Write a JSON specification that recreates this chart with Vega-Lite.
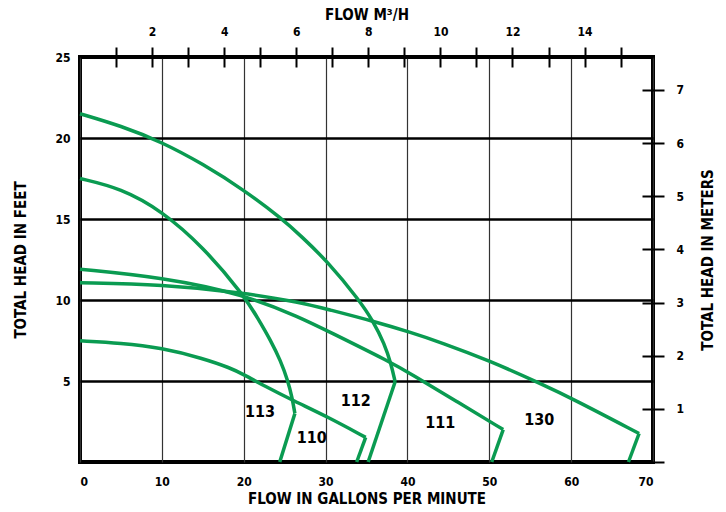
{
  "$schema": "https://vega.github.io/schema/vega-lite/v6.json",
  "width": 573,
  "height": 405,
  "autosize": {"type": "none"},
  "padding": {"left": 80, "top": 57, "right": 73, "bottom": 50},
  "background": "white",
  "config": {
    "view": {"stroke": "black", "strokeWidth": 4},
    "font": "DejaVu Sans Condensed, Liberation Sans, sans-serif",
    "axis": {
      "labelFont": "DejaVu Sans Condensed, Liberation Sans, sans-serif",
      "titleFont": "DejaVu Sans Condensed, Liberation Sans, sans-serif",
      "labelFontWeight": "bold",
      "titleFontWeight": "bold",
      "labelFontSize": 12,
      "titleFontSize": 15,
      "labelColor": "black",
      "titleColor": "black",
      "tickColor": "black"
    }
  },
  "datasets": {
    "curves": [
      {"pump": "112", "gpm": 0, "ft": 21.5},
      {"pump": "112", "gpm": 5, "ft": 20.75},
      {"pump": "112", "gpm": 10, "ft": 19.75},
      {"pump": "112", "gpm": 15, "ft": 18.4},
      {"pump": "112", "gpm": 20, "ft": 16.8},
      {"pump": "112", "gpm": 24.7, "ft": 15.0},
      {"pump": "112", "gpm": 27, "ft": 13.95},
      {"pump": "112", "gpm": 30.2, "ft": 12.4},
      {"pump": "112", "gpm": 34.1, "ft": 10.0},
      {"pump": "112", "gpm": 35.8, "ft": 8.7},
      {"pump": "112", "gpm": 37.2, "ft": 7.3},
      {"pump": "112", "gpm": 38.0, "ft": 6.05},
      {"pump": "112", "gpm": 38.5, "ft": 4.95},
      {"pump": "113", "gpm": 0, "ft": 17.5},
      {"pump": "113", "gpm": 5, "ft": 16.9},
      {"pump": "113", "gpm": 10, "ft": 15.5},
      {"pump": "113", "gpm": 15, "ft": 13.3},
      {"pump": "113", "gpm": 20, "ft": 10.3},
      {"pump": "113", "gpm": 21.7, "ft": 8.9},
      {"pump": "113", "gpm": 23.3, "ft": 7.5},
      {"pump": "113", "gpm": 24.5, "ft": 6.26},
      {"pump": "113", "gpm": 25.4, "ft": 5.0},
      {"pump": "113", "gpm": 25.9, "ft": 4.0},
      {"pump": "113", "gpm": 26.25, "ft": 3.0},
      {"pump": "110", "gpm": 0, "ft": 7.48},
      {"pump": "110", "gpm": 5, "ft": 7.35},
      {"pump": "110", "gpm": 10, "ft": 7.04},
      {"pump": "110", "gpm": 15, "ft": 6.4},
      {"pump": "110", "gpm": 18.4, "ft": 5.8},
      {"pump": "110", "gpm": 20, "ft": 5.4},
      {"pump": "110", "gpm": 22.5, "ft": 4.7},
      {"pump": "110", "gpm": 26.2, "ft": 3.75},
      {"pump": "110", "gpm": 30.2, "ft": 2.8},
      {"pump": "110", "gpm": 34.9, "ft": 1.52},
      {"pump": "111", "gpm": 0, "ft": 11.9},
      {"pump": "111", "gpm": 10, "ft": 11.4},
      {"pump": "111", "gpm": 20, "ft": 10.35},
      {"pump": "111", "gpm": 27, "ft": 8.9},
      {"pump": "111", "gpm": 30.2, "ft": 8.1},
      {"pump": "111", "gpm": 38, "ft": 6.15},
      {"pump": "111", "gpm": 40.4, "ft": 5.44},
      {"pump": "111", "gpm": 46, "ft": 3.75},
      {"pump": "111", "gpm": 51.7, "ft": 2.0},
      {"pump": "130", "gpm": 0, "ft": 11.06},
      {"pump": "130", "gpm": 10, "ft": 10.96},
      {"pump": "130", "gpm": 20, "ft": 10.45},
      {"pump": "130", "gpm": 27, "ft": 9.85},
      {"pump": "130", "gpm": 30.2, "ft": 9.43},
      {"pump": "130", "gpm": 35.8, "ft": 8.7},
      {"pump": "130", "gpm": 40.4, "ft": 8.0},
      {"pump": "130", "gpm": 44.1, "ft": 7.38},
      {"pump": "130", "gpm": 50, "ft": 6.26},
      {"pump": "130", "gpm": 56.3, "ft": 4.83},
      {"pump": "130", "gpm": 60.2, "ft": 3.9},
      {"pump": "130", "gpm": 68.3, "ft": 1.76}
    ],
    "tails": [
      {"pump": "112", "gpm": 38.5, "ft": 4.95},
      {"pump": "112", "gpm": 35.2, "ft": 0},
      {"pump": "113", "gpm": 26.25, "ft": 3.0},
      {"pump": "113", "gpm": 24.4, "ft": 0},
      {"pump": "110", "gpm": 34.9, "ft": 1.52},
      {"pump": "110", "gpm": 33.8, "ft": 0},
      {"pump": "111", "gpm": 51.7, "ft": 2.0},
      {"pump": "111", "gpm": 50.3, "ft": 0},
      {"pump": "130", "gpm": 68.3, "ft": 1.76},
      {"pump": "130", "gpm": 67.0, "ft": 0}
    ],
    "labels": [
      {"pump": "113", "gpm": 22.0, "ft": 3.09},
      {"pump": "110", "gpm": 28.3, "ft": 1.51},
      {"pump": "112", "gpm": 33.7, "ft": 3.76},
      {"pump": "111", "gpm": 44.0, "ft": 2.43},
      {"pump": "130", "gpm": 56.1, "ft": 2.58}
    ],
    "metric": [{"m3h": 0, "m": 0}]
  },
  "layer": [
    {
      "encoding": {
        "x": {
          "field": "gpm",
          "type": "quantitative",
          "scale": {"domain": [0, 70], "nice": false, "zero": false},
          "axis": {
            "orient": "bottom",
            "values": [0, 10, 20, 30, 40, 50, 60, 70],
            "ticks": false,
            "domain": false,
            "grid": true,
            "gridColor": "#333333",
            "gridWidth": 1.2,
            "labelPadding": 14,
            "title": "FLOW IN GALLONS PER MINUTE",
            "titlePadding": 4
          }
        },
        "y": {
          "field": "ft",
          "type": "quantitative",
          "scale": {"domain": [0, 25], "nice": false, "zero": false},
          "axis": {
            "orient": "left",
            "values": [5, 10, 15, 20, 25],
            "ticks": false,
            "domain": false,
            "grid": true,
            "gridColor": "black",
            "gridWidth": 2.5,
            "labelPadding": 10,
            "title": "TOTAL HEAD IN FEET",
            "titlePadding": 26
          }
        }
      },
      "layer": [
        {
          "data": {"name": "curves"},
          "mark": {"type": "line", "interpolate": "basis", "color": "#0a9b51", "strokeWidth": 3.5},
          "encoding": {"detail": {"field": "pump", "type": "nominal"}}
        },
        {
          "data": {"name": "tails"},
          "mark": {"type": "line", "color": "#0a9b51", "strokeWidth": 3.5, "strokeJoin": "miter"},
          "encoding": {"detail": {"field": "pump", "type": "nominal"}}
        },
        {
          "data": {"name": "labels"},
          "mark": {"type": "text", "font": "DejaVu Sans Condensed, Liberation Sans, sans-serif", "fontWeight": "bold", "fontSize": 16, "color": "black"},
          "encoding": {"text": {"field": "pump", "type": "nominal"}}
        }
      ]
    },
    {
      "data": {"name": "metric"},
      "mark": {"type": "point", "opacity": 0},
      "encoding": {
        "x": {
          "field": "m3h",
          "type": "quantitative",
          "scale": {"domain": [0, 15.899], "nice": false, "zero": false},
          "axis": {
            "orient": "top",
            "values": [1, 2, 3, 4, 5, 6, 7, 8, 9, 10, 11, 12, 13, 14, 15],
            "tickSize": 20,
            "tickWidth": 2,
            "offset": -10,
            "domain": false,
            "grid": false,
            "labelExpr": "datum.value % 2 === 0 ? datum.label : ''",
            "labelPadding": 9,
            "title": "FLOW M³/H",
            "titlePadding": 3
          }
        },
        "y": {
          "field": "m",
          "type": "quantitative",
          "scale": {"domain": [0, 7.62], "nice": false, "zero": false},
          "axis": {
            "orient": "right",
            "values": [0, 1, 2, 3, 4, 5, 6, 7],
            "tickSize": 22,
            "tickWidth": 2,
            "offset": -11,
            "domain": false,
            "grid": false,
            "labelExpr": "datum.value === 0 ? '' : datum.label",
            "labelPadding": 12,
            "title": "TOTAL HEAD IN METERS",
            "titleAngle": 270,
            "titlePadding": 32
          }
        }
      }
    }
  ],
  "resolve": {"scale": {"x": "independent", "y": "independent"}}
}
